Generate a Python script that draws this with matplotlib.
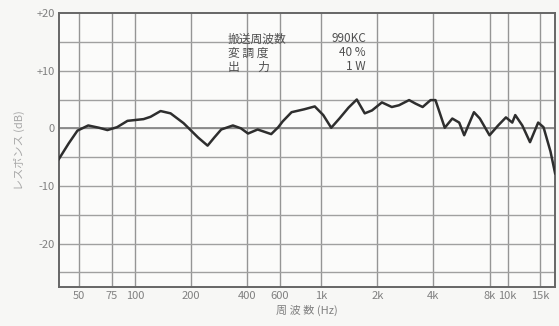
import numpy as np
import matplotlib
matplotlib.use("Agg")
import matplotlib.pyplot as plt

plt.rcParams['font.family'] = ['Noto Sans CJK JP', 'DejaVu Sans']

# frequency response (Hz, dB)
freq = [39, 44, 49, 56, 64, 71, 80, 91, 111, 121, 137, 155, 182, 218, 245,
        266, 290, 335, 370, 404, 455, 538, 587, 620, 692, 808, 922, 1024,
        1130, 1250, 1400, 1550, 1710, 1870, 2115, 2390, 2610, 2960, 3200,
        3500, 3860, 4100, 4600, 5050, 5500, 5850, 6600, 7100, 8000, 8900,
        9800, 10600, 11000, 12000, 13200, 14600, 15600, 17000, 18000]
resp = [-5.3, -2.6, -0.4, 0.5, 0.1, -0.3, 0.2, 1.3, 1.6, 2.0, 3.0, 2.6, 0.9,
        -1.6, -3.0, -1.6, -0.2, 0.5, 0.0, -0.9, -0.2, -1.0, 0.2, 1.2, 2.8,
        3.3, 3.8, 2.3, 0.1, 1.7, 3.6, 5.0, 2.6, 3.1, 4.5, 3.7, 4.0, 4.9,
        4.3, 3.7, 4.9, 4.9, 0.1, 1.7, 1.0, -1.2, 2.8, 1.7, -1.2, 0.5, 1.9,
        1.0, 2.3, 0.5, -2.4, 1.0, 0.2, -4.0, -7.8]

xticks = [50, 75, 100, 200, 400, 600, 1000, 2000, 4000, 8000, 10000, 15000]
xticklabels = ['50', '75', '100', '200', '400', '600', '1k', '2k', '4k',
               '8k', '10k', '15k']
yticks = [20, 10, 0, -10, -20]
yticklabels = ['+20', '+10', '0', '-10', '-20']

fig = plt.figure(figsize=(5.59, 3.26), dpi=100)
fig.patch.set_facecolor('#f7f7f5')
ax = fig.add_axes([0.1055, 0.12, 0.8875, 0.84])
ax.set_facecolor('#fbfbfa')

ax.set_xscale('log')
ax.set_xlim(39, 18000)
ax.set_ylim(-27.5, 20)

for f in xticks:
    ax.axvline(f, color='#959595', lw=1.0, zorder=1)
for v in np.arange(-25, 20, 5):
    ax.axhline(v, color='#a0a0a0', lw=1.0, zorder=1)
ax.axhline(0, color='#888888', lw=1.3, zorder=1)

ax.plot(freq, resp, color='#2e2e2e', lw=1.8, zorder=3)

ax.set_xticks(xticks)
ax.set_xticklabels(xticklabels)
ax.minorticks_off()
ax.set_yticks(yticks)
ax.set_yticklabels(yticklabels)
ax.tick_params(length=0, labelsize=8, colors='#808080', pad=3)
for s in ax.spines.values():
    s.set_color('#666666')
    s.set_linewidth(1.4)

ax.set_ylabel('レスポンス (dB)', fontsize=8, color='#a8a8a8', labelpad=8)
ax.set_xlabel('周 波 数 (Hz)', fontsize=8, color='#808080', labelpad=3)

# measurement conditions
tk = dict(transform=fig.transFigure, fontsize=8.5, color='#505050')
fig.text(228 / 559, 1 - 39 / 326, '搬送周波数', va='center', **tk)
fig.text(228 / 559, 1 - 53 / 326, '変 調 度', va='center', **tk)
fig.text(228 / 559, 1 - 67 / 326, '出       力', va='center', **tk)
fig.text(366 / 559, 1 - 39 / 326, '990KC', va='center', ha='right', **tk)
fig.text(366 / 559, 1 - 53 / 326, '40 %', va='center', ha='right', **tk)
fig.text(366 / 559, 1 - 67 / 326, '1 W', va='center', ha='right', **tk)

fig.savefig('out.png', dpi=100)
